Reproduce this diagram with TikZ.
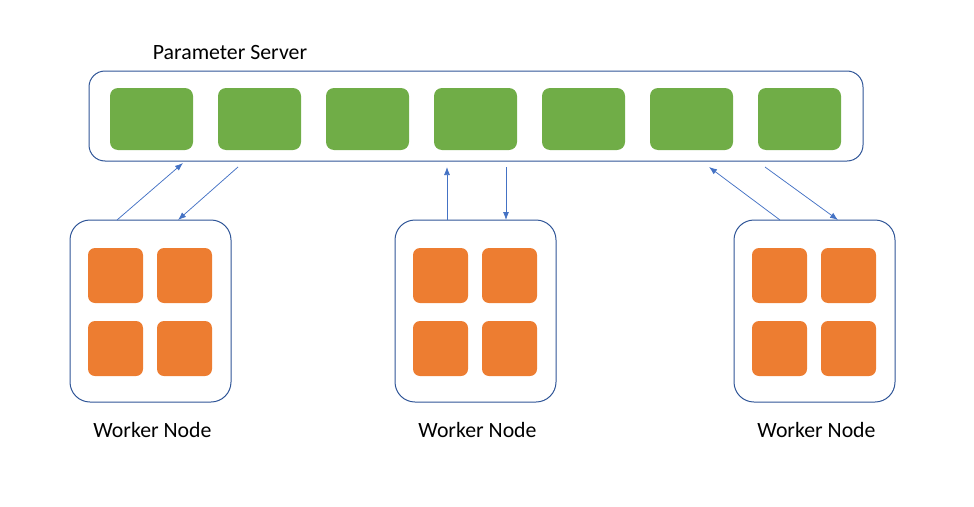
\documentclass[tikz,border=0pt]{standalone}
\usepackage{fontspec}
\setmainfont{Carlito}
\usetikzlibrary{arrows.meta}
\definecolor{frameblue}{HTML}{2F5597}
\definecolor{arrowblue}{HTML}{4472C4}
\definecolor{psgreen}{HTML}{70AD47}
\definecolor{wkorange}{HTML}{ED7D31}
\begin{document}
\begin{tikzpicture}[x=1pt, y=-1pt,
      frame/.style={draw=frameblue, line width=1pt, rounded corners=16pt},
      shard/.style={fill=psgreen, minimum width=83pt, minimum height=62pt, rounded corners=8pt},
      core/.style={fill=wkorange, minimum width=55pt, minimum height=55pt, rounded corners=7pt},
      label/.style={font=\fontsize{21.8}{24}\selectfont},
      link/.style={draw=arrowblue, line width=0.75pt, -{Latex[length=8pt, width=6pt]}}]
   \useasboundingbox (0,0) rectangle (974,506);
   % parameter server
   \node[frame, minimum width=774pt, minimum height=90pt] (ps) at (476,116) {};
   \node[label] (pslabel) at (230,53) {Parameter Server};
   \foreach \i in {1,...,7} {
      \node[shard] (g\i) at (151.5+108*\i-108, 119) {};
   }
   % worker nodes
   \def \Workers {
      w1/150.5,
      w2/475.5,
      w3/814.5}
   \foreach \w / \x in \Workers {
      \node[frame, rounded corners=20pt, minimum width=161pt, minimum height=182pt] (\w) at (\x, 311) {};
      \node[core] (\w a) at (\x-35, 275.5) {};
      \node[core] (\w b) at (\x+34, 275.5) {};
      \node[core] (\w c) at (\x-35, 348.5) {};
      \node[core] (\w d) at (\x+34, 348.5) {};
      \node[label] (\w label) at (\x+2, 430) {Worker Node};
   }
   % push / pull
   \def \Ends {
      u1/117/220, v1/183/163,
      p1/238/167, q1/178/220,
      u2/447/220, v2/447/167,
      p2/506/167, q2/506/220,
      u3/780/220, v3/709/167,
      p3/765/167, q3/838/220}
   \foreach \c / \x / \y in \Ends {
      \coordinate (\c) at (\x, \y);
   }
   \foreach \i in {1,2,3} {
      \path[link] (u\i) -- (v\i);
      \path[link] (p\i) -- (q\i);
   }
\end{tikzpicture}
\end{document}
